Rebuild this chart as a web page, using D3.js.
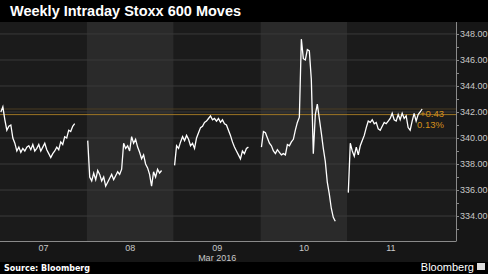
<!DOCTYPE html>
<html>
<head>
<meta charset="utf-8">
<script src="https://cdn.jsdelivr.net/npm/d3@7"></script>
<style>
  body { margin: 0; background: #000; }
  svg { display: block; }
</style>
</head>
<body>
<svg id="chart" width="488" height="274"></svg>
<script>
const dayLabels = ['07', '08', '09', '10', '11'];

// intraday prices, one array per session
const day07 = [342.0, 342.4, 341.4, 340.6, 340.9, 341.0, 340.0, 339.6, 339.0, 339.3,
  338.9, 339.2, 339.0, 339.3, 339.4, 339.1, 339.5, 339.0, 339.2, 339.5,
  339.0, 339.3, 339.6, 339.1, 338.8, 338.5, 338.8, 339.0, 339.3, 339.1,
  339.7, 339.5, 340.1, 340.0, 340.6, 340.5, 340.9, 341.1];
const day08 = [339.8, 337.0, 336.7, 337.3, 336.8, 337.5, 337.2, 336.7, 337.0, 336.3,
  336.6, 336.9, 337.2, 336.8, 337.1, 337.4, 337.2, 337.6, 339.6, 339.2,
  339.4, 339.0, 340.1, 339.6, 339.9, 339.3, 338.9, 338.4, 338.7, 338.0,
  337.7, 337.2, 336.3, 337.4, 337.0, 337.6, 337.3, 337.5];
const day09 = [337.9, 339.4, 339.2, 339.7, 340.1, 339.8, 340.2, 339.9, 339.4, 339.6,
  339.2, 340.0, 340.4, 340.8, 340.9, 341.2, 341.3, 341.5, 341.7, 341.4,
  341.5, 341.3, 341.5, 341.2, 341.4, 341.1, 341.0, 340.6, 340.2, 339.7,
  339.3, 339.0, 338.7, 338.4, 339.0, 338.8, 339.2, 339.3];
const day10 = [339.3, 340.5, 340.4, 340.0, 339.6, 339.4, 339.0, 338.8, 339.1, 338.9,
  338.7, 338.8, 338.7, 339.5, 339.4, 339.7, 339.9, 340.6, 341.2, 341.6,
  347.6, 346.1, 346.0, 346.8, 346.7, 344.5, 338.8, 341.8, 342.6, 341.5,
  340.4, 339.2, 338.2, 336.6, 335.7, 334.6, 333.9, 333.6];
const day11 = [335.8, 339.6, 339.0, 338.6, 339.3, 338.7, 339.4, 339.8, 340.2, 340.8,
  341.3, 341.2, 341.4, 341.1, 341.2, 340.7, 340.6, 340.9, 341.2, 341.1,
  341.3, 341.5, 341.9, 341.4, 341.3, 341.8, 341.4, 341.9, 341.5, 341.7,
  340.8, 340.6, 341.3, 341.9, 341.3, 341.8, 342.0, 342.23];
const sessions = [day07, day08, day09, day10, day11];

const prevClose = 341.80;
const lastPrice = 342.23;
const yTicks = [334, 336, 338, 340, 342, 344, 346, 348];

const svg = d3.select('#chart');
const W = 488, H = 274;
const plot = { left: 0, right: 456, top: 22, bottom: 241 };
const smallFont = '9px "Liberation Sans", Arial, sans-serif';

svg.append('rect').attr('width', W).attr('height', H).attr('fill', '#000');
svg.append('rect')
  .attr('x', 0).attr('y', plot.top)
  .attr('width', W).attr('height', 262 - plot.top)
  .attr('fill', '#161616');

const x = d3.scaleLinear().domain([0, 5.25]).range([plot.left, plot.right]);
const y = d3.scaleLinear().domain([332.08, 348.92]).range([plot.bottom, plot.top]);

// alternating day bands
svg.selectAll('.band')
  .data(dayLabels)
  .enter()
  .append('rect')
  .attr('class', 'band')
  .attr('x', (d, i) => x(i))
  .attr('y', plot.top)
  .attr('width', (d, i) => (i === 4 ? x(5.25) : x(i + 1)) - x(i))
  .attr('height', plot.bottom - plot.top)
  .attr('fill', (d, i) => i % 2 ? '#2a2a2a' : '#1b1b1b');

// grid
svg.selectAll('.grid')
  .data(yTicks)
  .enter()
  .append('line')
  .attr('x1', plot.left).attr('x2', plot.right)
  .attr('y1', d => y(d)).attr('y2', d => y(d))
  .attr('stroke', '#3a3a3a')
  .attr('stroke-width', 1);

// previous close and last price lines
svg.append('line')
  .attr('x1', plot.left).attr('x2', plot.right)
  .attr('y1', y(lastPrice)).attr('y2', y(lastPrice))
  .attr('stroke', '#4a3c22').attr('stroke-width', 1);
svg.append('line')
  .attr('x1', plot.left).attr('x2', plot.right)
  .attr('y1', y(prevClose)).attr('y2', y(prevClose))
  .attr('stroke', '#9c7424').attr('stroke-width', 1);

// price line
const line = d3.line()
  .x(d => x(d.t))
  .y(d => y(d.v));

sessions.forEach((vals, day) => {
  const pts = vals.map((v, i) => ({ t: day + 0.01 + 0.85 * i / (vals.length - 1), v: v }));
  svg.append('path')
    .datum(pts)
    .attr('d', line)
    .attr('fill', 'none')
    .attr('stroke', '#fff')
    .attr('stroke-width', 1.3)
    .attr('stroke-linejoin', 'miter');
});

// change labels
const chg = (lastPrice - prevClose);
svg.append('text')
  .attr('x', 444).attr('y', y(prevClose) + 2)
  .attr('text-anchor', 'end')
  .attr('fill', '#d38f1c')
  .style('font', '9.5px "Liberation Sans", Arial, sans-serif')
  .text('+' + chg.toFixed(2));
svg.append('text')
  .attr('x', 444).attr('y', y(prevClose) + 13)
  .attr('text-anchor', 'end')
  .attr('fill', '#d38f1c')
  .style('font', '9.5px "Liberation Sans", Arial, sans-serif')
  .text((chg / prevClose * 100).toFixed(2) + '%');

// right axis
const yAxis = d3.axisRight(y)
  .tickValues(d3.range(333, 349, 1))
  .tickSize(3)
  .tickFormat(d => d % 2 === 0 ? d3.format('.2f')(d) : '');
const ya = svg.append('g')
  .attr('transform', 'translate(' + plot.right + ',0)')
  .call(yAxis);
ya.select('.domain').attr('stroke', '#8a8a8a').attr('d', 'M0.5,' + plot.top + 'V' + plot.bottom);
ya.selectAll('line').attr('stroke', '#8a8a8a');
ya.selectAll('text')
  .attr('fill', '#c8c8c8')
  .attr('x', 4)
  .style('font', smallFont);

// bottom axis
svg.append('line')
  .attr('x1', plot.left).attr('x2', plot.right + 0.5)
  .attr('y1', plot.bottom + 0.5).attr('y2', plot.bottom + 0.5)
  .attr('stroke', '#8a8a8a');

svg.selectAll('.daylab')
  .data(dayLabels)
  .enter()
  .append('text')
  .attr('x', (d, i) => x(i + 0.5))
  .attr('y', 251)
  .attr('text-anchor', 'middle')
  .attr('fill', '#c8c8c8')
  .style('font', smallFont)
  .text(d => d);

svg.append('text')
  .attr('x', x(2.5)).attr('y', 261)
  .attr('text-anchor', 'middle')
  .attr('fill', '#c8c8c8')
  .style('font', smallFont)
  .text('Mar 2016');

// title and footer
svg.append('text')
  .attr('x', 10).attr('y', 16)
  .attr('fill', '#fff')
  .style('font', 'bold 14.5px "Liberation Sans", Arial, sans-serif')
  .text('Weekly Intraday Stoxx 600 Moves');

svg.append('text')
  .attr('x', 4).attr('y', 271)
  .attr('fill', '#fff')
  .style('font', 'bold 8px "DejaVu Sans", sans-serif')
  .text('Source: Bloomberg');

svg.append('text')
  .attr('x', 474).attr('y', 271)
  .attr('text-anchor', 'end')
  .attr('fill', '#fff')
  .style('font', '11px "Liberation Sans", Arial, sans-serif')
  .text('Bloomberg');
svg.append('rect')
  .attr('x', 477).attr('y', 263).attr('width', 8).attr('height', 7)
  .attr('fill', '#ddd');
</script>
</body>
</html>
